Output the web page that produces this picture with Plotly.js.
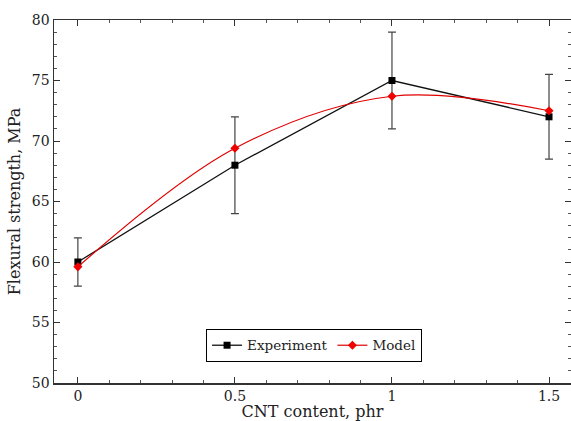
<!DOCTYPE html>
<html><head><meta charset="utf-8">
<script src="https://cdn.plot.ly/plotly-3.0.1.min.js"></script>
<style>body{margin:0;padding:0;background:#fff}#c{width:571px;height:421px}</style>
</head><body><div id="c"></div>
<script>
const cnt = [0, 0.5, 1, 1.5];
const expVals = [60, 68, 75, 72];
const expErr = [2, 4, 4, 3.5];
const modelVals = [59.6, 69.4, 73.7, 72.5];

const font = 'DejaVu Serif, serif';
const traces = [
  {x: cnt, y: expVals, name: 'Experiment', mode: 'lines+markers',
   line: {color: '#111', width: 1.3},
   marker: {symbol: 'square', size: 7, color: '#000'},
   error_y: {type: 'data', array: expErr, visible: true, color: '#444', thickness: 1.2, width: 4}},
  {x: cnt, y: modelVals, name: 'Model', mode: 'lines+markers',
   line: {color: '#e00000', width: 1.2, shape: 'spline', smoothing: 1},
   marker: {symbol: 'diamond', size: 7, color: '#f00000'}}
];
const axCommon = {showgrid: false, zeroline: false, showline: true, mirror: 'allticks',
  linecolor: '#333', linewidth: 1.5, ticks: 'inside', ticklen: 6, tickcolor: '#333', tickwidth: 1,
  tickfont: {family: font, size: 14, color: '#222'}};
const layout = {
  width: 571, height: 421,
  margin: {l: 54, r: 0, t: 20, b: 38},
  paper_bgcolor: '#fff', plot_bgcolor: '#fff',
  showlegend: true,
  legend: {orientation: 'h', x: 0.503, xanchor: 'center', y: 0.058, yanchor: 'bottom',
    bordercolor: '#000', borderwidth: 1, bgcolor: '#fff', tracegroupgap: 0, itemwidth: 30,
    font: {family: font, size: 13.5, color: '#222'}},
  xaxis: Object.assign({}, axCommon, {range: [-0.076, 1.57], tickvals: [0, 0.5, 1, 1.5], ticktext: ['0','0.5','1','1.5'],
    minor: {dtick: 0.1, ticks: 'inside', ticklen: 3, tickcolor: '#555'},
    title: {text: 'CNT content, phr', font: {family: font, size: 16, color: '#222'}, standoff: 3}}),
  yaxis: Object.assign({}, axCommon, {range: [50, 80], dtick: 5,
    minor: {dtick: 1, ticks: 'inside', ticklen: 3, tickcolor: '#555'},
    title: {text: 'Flexural strength, MPa', font: {family: font, size: 16, color: '#222'}, standoff: 7}})
};
Plotly.newPlot('c', traces, layout, {displayModeBar: false, staticPlot: true});
</script></body></html>
